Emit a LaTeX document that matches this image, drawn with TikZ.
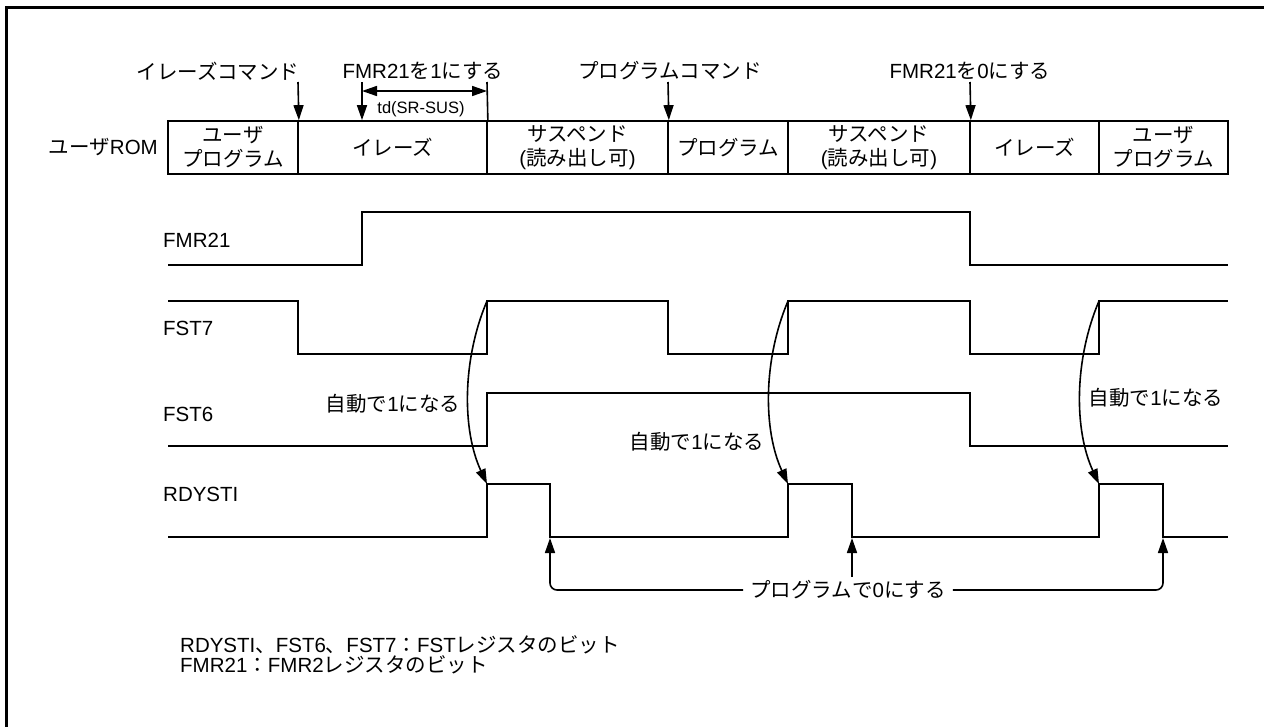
\documentclass[tikz,border=0pt]{standalone}
\usepackage{fontspec}
\setmainfont{Liberation Sans}
\newfontfamily\jpf{Noto Sans CJK JP}
\newcommand\JP[1]{{\jpf #1}}
\usetikzlibrary{arrows.meta}
\begin{document}
\begin{tikzpicture}[x=1pt,y=-1pt,
  wave/.style={line width=1.7pt, line join=miter},
  seg/.style={draw, line width=1.7pt, minimum height=53pt, inner sep=0pt, align=center,
    font=\fontsize{20.5}{24}\selectfont},
  lbl/.style={inner sep=0pt, font=\fontsize{20.5}{21}\selectfont},
  small/.style={inner sep=0pt, font=\fontsize{16.5}{18}\selectfont},
  tip/.style={-{Triangle[length=15pt,width=10pt]}},
  conn/.style={line width=1.6pt},
]
\useasboundingbox (0,0) rectangle (1264,726);
% frame
\draw[line width=3pt] (6.5,730) -- (6.5,7.5) -- (1270,7.5);

% ROM row
\node[lbl, anchor=east] (rom) at (158,147.5) {\JP{ユーザ}ROM};
\node[seg, minimum width=130pt] (s1) at (233,147.5) {\JP{ユーザ}\\\JP{プログラム}};
\node[seg, minimum width=189pt] (s2) at (392.5,147.5) {\JP{イレーズ}};
\node[seg, minimum width=181pt] (s3) at (577.5,147.5) {\JP{サスペンド}\\(\JP{読み出し可})};
\node[seg, minimum width=120pt] (s4) at (728,147.5) {\JP{プログラム}};
\node[seg, minimum width=182pt] (s5) at (879,147.5) {\JP{サスペンド}\\(\JP{読み出し可})};
\node[seg, minimum width=129pt] (s6) at (1034.5,147.5) {\JP{イレーズ}};
\node[seg, minimum width=129pt] (s7) at (1163.5,147.5) {\JP{ユーザ}\\\JP{プログラム}};

% top labels
\node[lbl] (c1) at (218,71) {\JP{イレーズコマンド}};
\node[lbl] (c2) at (423,71) {FMR21\JP{を}1\JP{にする}};
\node[lbl] (c3) at (670,71) {\JP{プログラムコマンド}};
\node[lbl] (c4) at (970,71) {FMR21\JP{を}0\JP{にする}};

\coordinate (a1) at (298,82);
\coordinate (a2) at (362,82);
\coordinate (a3) at (487,82);
\coordinate (a4) at (668,82);
\coordinate (a5) at (970,82);
\draw[conn,tip] (a1) -- (s1.north east);
\draw[conn,tip] (a2) -- (a2 |- s2.north);
\draw[conn] (a3) -- (s2.north east);
\draw[conn,tip] (a4) -- (s3.north east);
\draw[conn,tip] (a5) -- (s5.north east);
\coordinate (td1) at (362,91);
\coordinate (td2) at (487,91);
\draw[conn,{Triangle[length=15pt,width=10pt]}-{Triangle[length=15pt,width=10pt]}] (td1) -- (td2);
\node[small] (td) at (421,109) {td(SR-SUS)};

% signal labels
\node[lbl, anchor=west] (l1) at (163,240) {FMR21};
\node[lbl, anchor=west] (l2) at (163,328) {FST7};
\node[lbl, anchor=west] (l3) at (163,414) {FST6};
\node[lbl, anchor=west] (l4) at (163,494) {RDYSTI};

% waveforms
\draw[wave] (168,265) -- (362,265) -- (362,212) -- (970,212) -- (970,265) -- (1228,265);
\draw[wave] (168,301) -- (298,301) -- (298,354) -- (487,354) -- (487,301) -- (668,301) -- (668,354) -- (788,354) -- (788,301) -- (970,301) -- (970,354) -- (1099,354) -- (1099,301) -- (1228,301);
\draw[wave] (168,446) -- (487,446) -- (487,393) -- (970,393) -- (970,446) -- (1228,446);
\draw[wave] (168,537) -- (487,537) -- (487,484) -- (550,484) -- (550,537) -- (788,537) -- (788,484) -- (852,484) -- (852,537) -- (1099,537) -- (1099,484) -- (1163,484) -- (1163,537) -- (1228,537);

% automatic set arrows
\coordinate (f1) at (487,301); \coordinate (r1) at (487,484);
\coordinate (f2) at (788,301); \coordinate (r2) at (788,484);
\coordinate (f3) at (1099,301); \coordinate (r3) at (1099,484);
\draw[conn,tip] (f1) .. controls (462,360) and (462,430) .. (r1);
\draw[conn,tip] (f2) .. controls (763,360) and (763,430) .. (r2);
\draw[conn,tip] (f3) .. controls (1074,360) and (1074,430) .. (r3);
\node[lbl] (au1) at (393,404) {\JP{自動で}1\JP{になる}};
\node[lbl] (au2) at (697,442) {\JP{自動で}1\JP{になる}};
\node[lbl] (au3) at (1156,398) {\JP{自動で}1\JP{になる}};

% clear by program
\node[lbl, inner xsep=7pt] (pg) at (848,590) {\JP{プログラムで}0\JP{にする}};
\coordinate (d1) at (550,538);
\coordinate (d2) at (852,538);
\coordinate (d3) at (1163,538);
\coordinate (m2) at (852,577);
\draw[conn,tip,rounded corners=7pt] (pg.west) -- (pg.west -| d1) -- (d1);
\draw[conn,tip,rounded corners=7pt] (pg.east) -- (pg.east -| d3) -- (d3);
\draw[conn,tip] (m2) -- (d2);

% notes
\node[lbl, anchor=west] (n1) at (180,645) {RDYSTI\JP{、}FST6\JP{、}FST7\JP{：}FST\JP{レジスタのビット}};
\node[lbl, anchor=west] (n2) at (180,665) {FMR21\JP{：}FMR2\JP{レジスタのビット}};
\end{tikzpicture}
\end{document}
